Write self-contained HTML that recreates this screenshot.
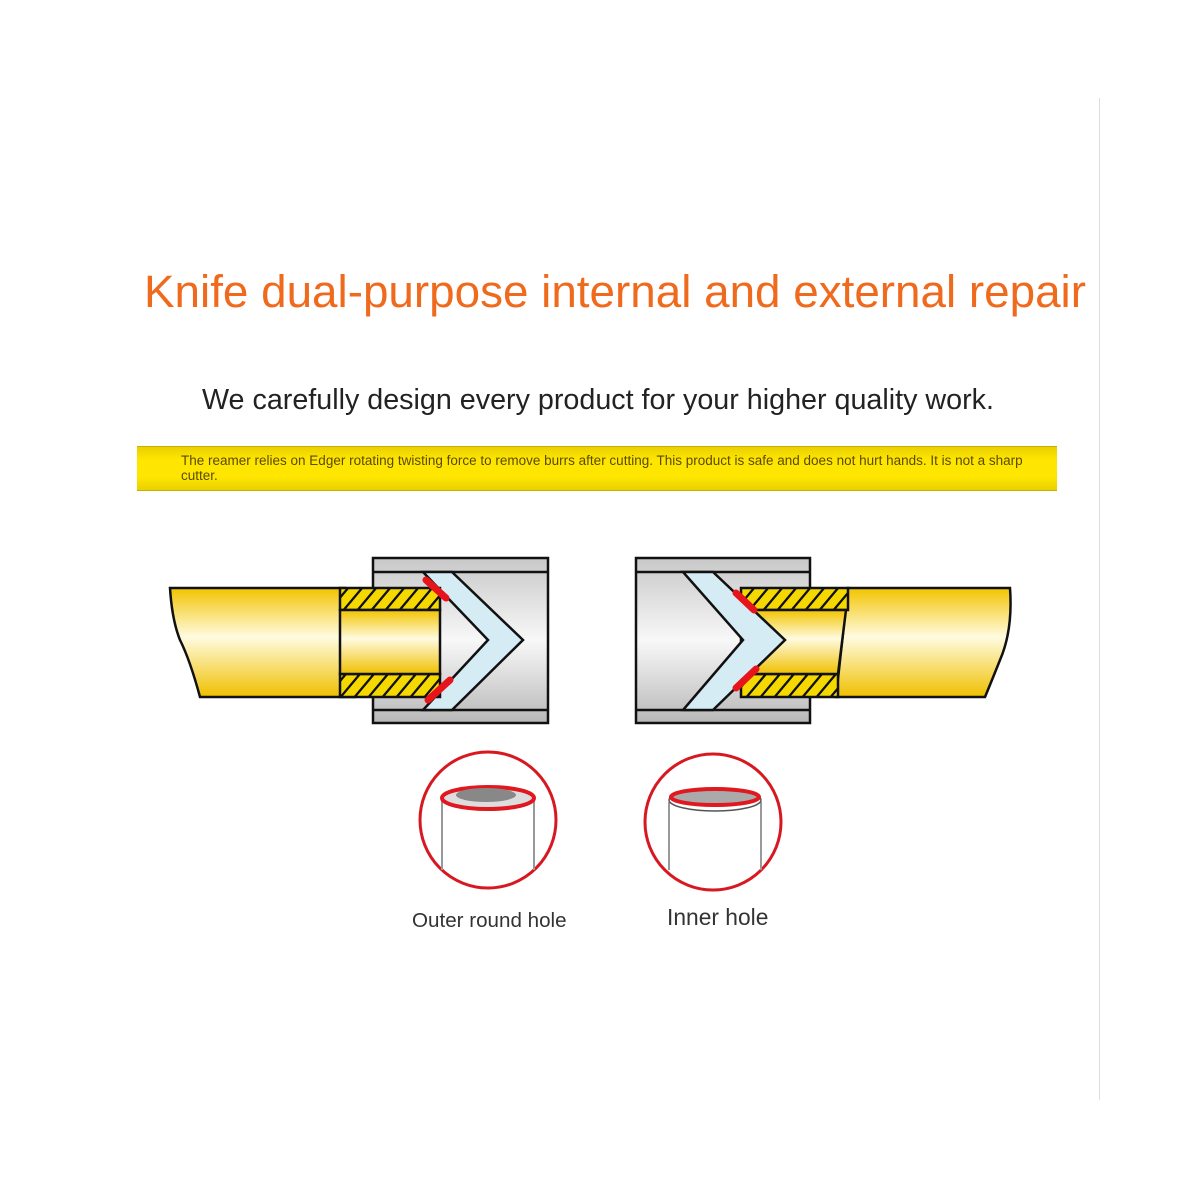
<!DOCTYPE html>
<html><head><style>
body{margin:0;width:1200px;height:1200px;background:#fff;position:relative;overflow:hidden;font-family:"Liberation Sans",sans-serif}
.t{position:absolute;white-space:nowrap}
</style></head><body>
<div style="position:absolute;left:1099px;top:98px;width:1px;height:1002px;background:#ddd"></div>
<div class="t" style="left:144px;top:266px;font-size:45.8px;color:#ef6a1c">Knife dual-purpose internal and external repair</div>
<div class="t" style="left:202px;top:384px;font-size:28.7px;color:#222">We carefully design every product for your higher quality work.</div>
<div style="position:absolute;left:137px;top:446px;width:920px;height:43px;background:linear-gradient(#e9d000,#ffe600 30%,#ffe600 70%,#e9d000);border-top:1px solid #c9b000;border-bottom:1px solid #c9b000"></div>
<div class="t" style="left:181px;top:454px;font-size:13.5px;line-height:14.5px;color:#5a4a00;white-space:normal;width:848px">The reamer relies on Edger rotating twisting force to remove burrs after cutting. This product is safe and does not hurt hands. It is not a sharp cutter.</div>
<svg width="1200" height="1200" style="position:absolute;left:0;top:0">
<defs>
<linearGradient id="y" x1="0" y1="0" x2="0" y2="1"><stop offset="0" stop-color="#f2c400"/><stop offset="0.45" stop-color="#fffbe0"/><stop offset="1" stop-color="#f0c000"/></linearGradient>
<linearGradient id="g" x1="0" y1="0" x2="0" y2="1"><stop offset="0" stop-color="#c8c8c8"/><stop offset="0.5" stop-color="#f8f8f8"/><stop offset="1" stop-color="#b8b8b8"/></linearGradient>
<pattern id="h" width="14" height="30" patternUnits="userSpaceOnUse" patternTransform="skewX(-40)"><rect width="14" height="30" fill="#f5d800"/><rect width="3" height="30" fill="#111"/></pattern>
</defs>
<g stroke="#111" stroke-width="2.5">
<rect x="373" y="558" width="175" height="165" fill="url(#g)"/>
<line x1="373" y1="572" x2="548" y2="572"/><line x1="373" y1="710" x2="548" y2="710"/>
<polygon points="423,572 452,572 523,640 452,710 423,710 488,640" fill="#d6ecf5"/>
<path d="M170,588 L345,588 L355,697 L200,697 Q190,660 180,640 Q172,620 170,588Z" fill="url(#y)"/>
<rect x="340" y="588" width="100" height="22" fill="url(#h)"/>
<rect x="340" y="674" width="100" height="23" fill="url(#h)"/>
<rect x="340" y="610" width="100" height="64" fill="url(#y)"/>
<rect x="636" y="558" width="174" height="165" fill="url(#g)"/>
<line x1="636" y1="572" x2="810" y2="572"/><line x1="636" y1="710" x2="810" y2="710"/>
<path d="M848,588 L1010,588 Q1013,630 1000,660 Q990,685 985,697 L836,697Z" fill="url(#y)"/>
<rect x="741" y="588" width="107" height="22" fill="url(#h)"/>
<rect x="741" y="674" width="97" height="23" fill="url(#h)"/>
<polygon points="741,610 846,610 838,674 741,674" fill="url(#y)"/>
<polygon points="683,572 713,572 785,640 713,710 683,710 743,640" fill="#d6ecf5"/>
</g>
<g stroke="#e8141c" stroke-width="7" stroke-linecap="round">
<line x1="426" y1="580" x2="446" y2="598"/><line x1="428" y1="700" x2="450" y2="680"/>
<line x1="736" y1="593" x2="754" y2="610"/><line x1="736" y1="688" x2="756" y2="669"/>
</g>
<circle cx="488" cy="820" r="68" fill="#fff" stroke="#d81820" stroke-width="3"/>
<line x1="442" y1="800" x2="442" y2="870" stroke="#999" stroke-width="2"/><line x1="534" y1="800" x2="534" y2="870" stroke="#999" stroke-width="2"/>
<ellipse cx="488" cy="798" rx="46" ry="11" fill="#ddd" stroke="#e01820" stroke-width="4"/>
<ellipse cx="486" cy="795" rx="30" ry="7" fill="#888"/>
<circle cx="713" cy="822" r="68" fill="#fff" stroke="#d81820" stroke-width="3"/>
<line x1="669" y1="802" x2="669" y2="870" stroke="#999" stroke-width="2"/><line x1="761" y1="802" x2="761" y2="870" stroke="#999" stroke-width="2"/>
<ellipse cx="715" cy="800" rx="46" ry="11" fill="#fff" stroke="#555" stroke-width="1.5"/>
<ellipse cx="715" cy="797" rx="44" ry="8" fill="#aaa" stroke="#e01820" stroke-width="4"/>
</svg>
<div class="t" style="left:412px;top:909px;font-size:20.6px;color:#333">Outer round hole</div>
<div class="t" style="left:667px;top:904px;font-size:22.8px;color:#333">Inner hole</div>
</body></html>
